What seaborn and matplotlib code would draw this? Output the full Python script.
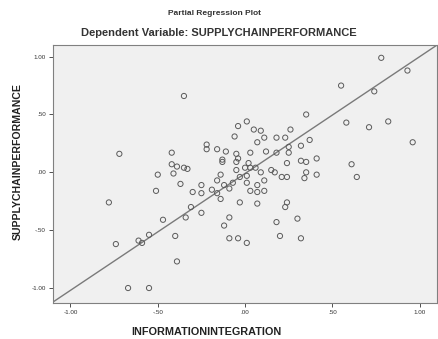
import numpy as np
import pandas as pd
import matplotlib
matplotlib.use('Agg')
import matplotlib.pyplot as plt
import seaborn as sns
from matplotlib.ticker import FuncFormatter

# partial residuals
info_integration = [
    0.78, 0.93, 0.55, 0.74, -0.35, 0.35, 0.58, 0.71, 0.82, 0.96,
    0.01, -0.04, -0.06, 0.05, 0.09, 0.11, 0.18, 0.23, 0.26, 0.37,
    0.32, 0.25, 0.25, 0.03, 0.12, 0.18, -0.04, -0.05, 0.32, 0.35,
    0.41, 0.61, 0.00, 0.03, 0.06, -0.22, -0.22, -0.16, -0.11, -0.13,
    0.07, -0.42, -0.72, -0.42, -0.39, -0.35, -0.33, -0.50, -0.41, -0.37,
    -0.51, -0.78, -0.25, -0.30, -0.25, -0.19, -0.16, -0.12, -0.09, -0.07,
    -0.03, 0.01, -0.05, -0.14, -0.13, -0.05, 0.09, -0.14, -0.03, -0.31,
    -0.25, -0.34, -0.47, -0.09, -0.12, -0.55, -0.61, -0.59, -0.40, -0.74,
    -0.09, -0.04, 0.01, -0.39, -0.67, -0.55, -0.16, 0.01, 0.03, 0.07,
    0.07, 0.11, 0.07, 0.24, 0.24, 0.21, 0.35, 0.34, 0.41, 0.15,
    0.11, 0.24, 0.23, 0.30, 0.18, 0.20, 0.32, 0.64, 0.17, 0.02,
]
supply_chain_perf = [
    0.99, 0.88, 0.75, 0.70, 0.66, 0.50, 0.43, 0.39, 0.44, 0.26,
    0.44, 0.40, 0.31, 0.37, 0.36, 0.30, 0.30, 0.30, 0.37, 0.28,
    0.23, 0.22, 0.17, 0.17, 0.18, 0.17, 0.12, 0.16, 0.10, 0.09,
    0.12, 0.07, 0.04, 0.04, 0.04, 0.24, 0.20, 0.20, 0.18, 0.11,
    0.26, 0.17, 0.16, 0.07, 0.05, 0.04, 0.03, -0.02, -0.01, -0.10,
    -0.16, -0.26, -0.11, -0.17, -0.18, -0.15, -0.18, -0.11, -0.14, -0.09,
    -0.04, -0.03, 0.02, -0.02, 0.09, 0.09, 0.00, -0.23, -0.26, -0.30,
    -0.35, -0.39, -0.41, -0.39, -0.46, -0.54, -0.59, -0.61, -0.55, -0.62,
    -0.57, -0.57, -0.61, -0.77, -1.00, -1.00, -0.07, -0.09, -0.16, -0.11,
    -0.17, -0.16, -0.27, 0.08, -0.04, -0.04, 0.00, -0.05, -0.02, 0.02,
    -0.07, -0.26, -0.30, -0.40, -0.43, -0.55, -0.57, -0.04, 0.00, 0.08,
]

# fit line of the partial regression
fit_slope = 1.01
fit_intercept = -0.01

ticks = [-1.0, -0.5, 0.0, 0.5, 1.0]

df = pd.DataFrame({'INFORMATIONINTEGRATION': info_integration,
                   'SUPPLYCHAINPERFORMANCE': supply_chain_perf})

sns.set_style('ticks')
plt.rcParams['font.family'] = ['Liberation Sans', 'DejaVu Sans']

fig = plt.figure(figsize=(4.38, 3.39), dpi=100)
ax = fig.add_axes([0.121, 0.106, 0.877, 0.761])
ax.set_facecolor('#f0f0f0')

sns.scatterplot(data=df, x='INFORMATIONINTEGRATION', y='SUPPLYCHAINPERFORMANCE',
                ax=ax, marker='o', s=14, facecolors='none',
                edgecolor='#5a5a5a', linewidth=0.7, zorder=3)
ax.axline((0, fit_intercept), slope=fit_slope, color='#7a7a7a', lw=1.0, zorder=2)

ax.set_xlim(-1.1, 1.1)
ax.set_ylim(-1.13, 1.1)
ax.set_xticks(ticks)
ax.set_yticks(ticks)


def spss_fmt(v, pos):
    s = f'{v:.2f}'
    return s.replace('0.', '.', 1) if abs(v) < 1 else s


ax.xaxis.set_major_formatter(FuncFormatter(spss_fmt))
ax.yaxis.set_major_formatter(FuncFormatter(spss_fmt))
ax.tick_params(labelsize=4.5, length=3, width=0.6, colors='#333333', pad=2)
for sp in ax.spines.values():
    sp.set_color('#808080')
    sp.set_linewidth(0.8)

ax.set_xlabel('INFORMATIONINTEGRATION', fontsize=7.8, fontweight='bold', color='#222222')
ax.set_ylabel('SUPPLYCHAINPERFORMANCE', fontsize=7.6, fontweight='bold', color='#222222')
ax.xaxis.set_label_coords(0.40, -0.093)
ax.yaxis.set_label_coords(-0.078, 0.55)

fig.text(0.49, 0.96, 'Partial Regression Plot', ha='center', va='center',
         fontsize=6, fontweight='bold', color='#333333')
fig.text(0.50, 0.902, 'Dependent Variable: SUPPLYCHAINPERFORMANCE', ha='center',
         va='center', fontsize=8, fontweight='bold', color='#333333')

fig.savefig('out.png', dpi=100)
